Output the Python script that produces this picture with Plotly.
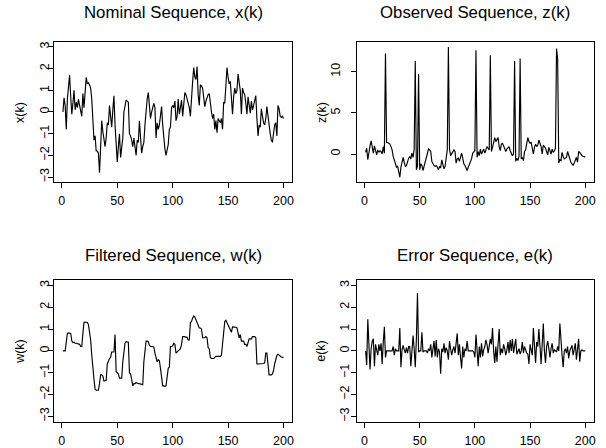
import plotly.graph_objects as go

k = list(range(1, 201))

x_nominal = [
    0.0, 0.65, 0.3, -0.8, 0.6, 1.2, 1.7, 0.7, -0.1, 0.4,
    1.0, 0.1, 0.45, 0.2, 0.6, 0.3, 0.1, -0.2, 0.85, 0.2,
    0.9, 1.6, 1.3, 1.35, 1.25, 1.1, 0.6, -0.2, -1.3, -1.1,
    -1.8, -1.8, -1.9, -2.8, -1.2, -0.4, -0.9, -1.3, -1.6, -1.2,
    -0.5, -0.6, 0.3, -0.2, -0.7, 0.1, 0.75, -0.6, -1.6, -2.3,
    -1.6, -1.0, -2.1, -1.6, -1.2, 0.0, 0.3, 0.55, 0.5, 0.45,
    -1.0, -1.1, -1.3, -1.6, -1.2, -1.5, -2.0, -1.3, -1.4, -0.4,
    -1.5, -1.9, -1.6, -1.4, -0.6, 0.3, 0.6, 0.9, 0.4, -0.3,
    0.0, 0.3, 0.4, 0.2, -1.2, -0.5, -0.8, -0.6, -0.2, 0.25,
    -0.6, -1.3, -1.7, -2.0, -1.7, -1.5, -0.8, -0.7, 0.2, 0.3,
    0.2, 0.5, -0.4, -0.2, 0.6, -0.1, 0.2, 0.55, -0.2, 0.3,
    0.9, 0.8, 0.6, 0.5, 0.2, -0.2, 0.8, 1.4, 2.05, 1.6,
    1.5, 2.1, 0.8, 0.3, 1.25, 1.2, 1.1, 0.6, 0.25, 0.5,
    0.7, 0.8, 0.85, 0.3, 0.0, -0.3, -0.1, -0.8, -0.4, -0.95,
    -0.3, -0.4, -0.5, -0.3, -0.8, 0.45, 0.4, 1.2, 2.05, 1.6,
    1.3, 1.4, 0.8, -0.1, 0.7, 1.1, 0.85, 1.0, 1.75, 1.3,
    1.0, -0.1, 1.1, 0.9, 0.8, 0.4, -0.1, 0.7, 0.2, -0.05,
    0.5, 0.1, 0.3, 0.6, 0.75, -0.3, -1.1, -0.6, -0.7, 0.15,
    -0.3, -0.5, -0.6, -0.3, 0.25, -0.2, -0.8, -1.0, -1.3, -1.4,
    -1.0, -0.6, -0.5, -1.1, 0.3, 0.15, -0.2, -0.25, -0.2, -0.3,
]

z_observed = [
    0.2, 0.7, -0.7, 0.4, 1.0, 1.6, 0.8, 0.1, 1.0, 0.3,
    -0.1, 0.5, 0.2, 0.4, 0.3, 0.0, 0.9, 0.1, 12.2, 1.4,
    1.4, 1.3, 1.2, 0.9, 0.5, -0.3, -0.8, -1.4, -1.6, -1.5,
    -2.2, -2.8, -1.6, -0.8, -0.4, -1.0, -1.5, -1.4, -0.8, -0.5,
    -0.3, -0.6, 0.1, -0.4, 0.6, 11.3, -1.9, -1.5, 9.7, -1.9,
    -1.2, -1.4, -2.0, -1.5, -1.0, -0.2, 0.3, 0.6, 0.5, 0.3,
    -0.9, -1.2, -1.4, -1.5, -1.4, -1.6, -1.9, -1.5, -1.7, -0.7,
    -1.4, -1.8, -1.5, -0.4, 0.5, 13.0, 0.6, -0.2, 0.1, 0.4,
    0.5, 0.3, -1.1, -0.6, -0.5, -0.9, -0.4, 0.1, -0.5, -1.2,
    -1.4, -1.8, -2.0, -1.6, -1.3, -0.8, -0.6, 0.1, 0.3, 0.4,
    12.6, -0.4, 0.3, -0.2, 0.6, 0.0, 0.3, 0.6, 0.1, 0.4,
    0.9, 0.7, 0.5, 12.0, 0.3, 0.8, 1.4, 2.0, 1.5, 1.7,
    2.0, 0.9, 0.4, 1.2, 1.3, 1.0, 0.6, 0.3, 0.6, 0.7,
    0.9, 0.4, 0.1, -0.2, 0.0, 11.3, -0.9, -0.5, -0.8, -0.3,
    11.6, -0.6, -0.4, -0.8, 0.3, 0.5, 1.3, 2.0, 1.5, 1.3,
    1.4, 0.7, 0.0, 0.8, 1.2, 0.9, 1.1, 1.7, 1.2, 0.9,
    0.0, 1.1, 0.9, 0.7, 0.3, -0.1, 0.8, 0.2, 0.0, 0.6,
    0.2, 0.4, 0.7, 12.8, 11.5, -1.1, -0.7, -0.8, 0.2, -0.3,
    -0.6, -0.5, -0.4, 0.3, -0.1, -0.7, -1.0, -1.2, -1.4, -1.1,
    -0.7, -0.4, -1.0, 0.3, 0.2, -0.1, -0.2, -0.3, -0.3, -0.4,
]

w_filtered = [
    0.0, 0.0, 0.0, 0.4, 0.8, 0.82, 0.82, 0.8, 0.45, 0.38,
    0.4, 0.35, 0.35, 0.33, 0.3, 0.3, 0.2, 0.2, 0.8, 1.3,
    1.32, 1.32, 1.3, 1.2, 0.9, 0.5, -0.2, -1.0, -1.3, -1.75,
    -1.8, -1.8, -1.8, -1.5, -1.1, -1.1, -1.15, -1.38, -1.38, -1.35,
    -0.6, -0.45, -0.35, -0.3, -0.05, -0.05, -0.05, 0.75, -0.95, -1.0,
    -1.05, -1.25, -1.25, -1.25, -0.5, 0.0, 0.35, 0.42, 0.42, 0.4,
    -1.0, -1.05, -1.3, -1.6, -1.5, -1.5, -1.45, -1.48, -1.5, -1.5,
    -1.52, -1.55, -1.55, -0.5, 0.0, 0.45, 0.45, 0.42, 0.25, 0.2,
    0.2, 0.2, 0.18, -0.1, -0.4, -0.5, -0.4, -0.45, -0.8, -1.1,
    -1.6, -1.6, -1.62, -1.6, -1.2, -0.8, -0.75, 0.2, 0.2, 0.22,
    0.35, 0.3, -0.1, -0.05, 0.0, 0.05, 0.1, 0.3, 0.65, 0.65,
    0.65, 0.65, 0.62, 0.5, 0.5, 1.3, 1.35, 1.5, 1.6, 1.55,
    1.4, 1.3, 1.15, 1.05, 1.05, 1.0, 0.6, 0.6, 0.6, 0.65,
    0.6, 0.15, 0.1, -0.3, -0.35, -0.35, -0.35, -0.3, -0.25, -0.25,
    -0.25, -0.25, -0.25, -0.2, 0.4, 1.0, 1.35, 1.4, 1.3, 1.2,
    1.1, 1.0, 0.85, 1.1, 1.1, 1.1, 1.08, 1.05, 0.75, 0.6,
    0.75, 0.45, 0.45, 0.45, 0.3, 0.3, 0.2, 0.35, 0.55, 0.55,
    0.55, 0.65, 0.65, 0.65, 0.6, -0.6, -0.6, -0.6, -0.6, -0.6,
    -0.58, -0.58, -0.55, -0.1, -0.1, -0.7, -1.1, -1.1, -1.1, -1.05,
    -0.9, -0.6, -0.3, -0.2, -0.15, -0.2, -0.25, -0.28, -0.3, -0.3,
]

e_error = [
    0.0, -0.65, 1.45, -0.2, -0.85, 0.1, 0.45, 0.55, -0.7, 0.3,
    0.1, -0.2, 0.3, 0.0, 0.35, -0.6, 0.4, 1.1, -0.3, 0.0,
    0.0, 0.0, 0.0, 0.0, 0.0, 0.2, -0.2, 0.1, 0.0, 0.0,
    0.0, 1.05, -0.75, 0.05, 0.25, 0.05, -0.1, 0.15, -0.1, 0.2,
    0.2, -0.7, 0.0, 0.7, 0.1, -0.75, 0.55, 2.65, -0.05, 0.0,
    0.0, 0.85, -0.05, 0.0, 0.0, 0.0, -0.1, 0.1, 0.0, 0.3,
    -0.3, 0.1, 0.45, -0.25, 0.5, -0.3, 0.1, -0.05, -1.05, 0.1,
    -0.05, 0.35, -0.1, 0.15, 0.0, -0.4, 0.45, 0.1, -0.2, 0.05,
    0.2, -0.1, 0.3, 0.8, -0.2, 0.3, -0.3, -0.8, 0.2, -0.3,
    0.1, 0.0, 0.45, 0.0, 0.0, 0.0, 0.0, 0.0, -0.05, -0.3,
    0.75, -0.1, -0.7, 0.2, -0.3, 0.35, -0.25, 0.05, 0.2, 0.5,
    0.3, -0.1, 0.2, 0.55, 0.3, 1.05, 0.0, -0.55, 0.2, -0.5,
    0.3, 1.0, -0.2, 0.1, -0.1, 0.3, 0.1, -0.2, 0.05, 0.4,
    -0.1, 0.5, 0.0, 0.55, -0.1, 0.3, 0.55, -0.15, 0.0, 0.1,
    -0.15, 0.0, 0.4, -0.1, 0.2, 0.0, -0.1, -0.15, -0.6, 0.3,
    0.0, -0.2, 1.05, 0.1, -0.55, 0.4, 0.2, 1.0, -0.1, -0.6,
    0.3, 1.25, 0.0, -0.55, 0.2, 0.45, 0.1, -0.3, 0.1, 0.35,
    -0.1, 0.05, 0.0, -0.05, 0.2, 0.0, 1.25, 0.3, -0.2, -0.75,
    0.0, 0.1, -0.1, 0.2, -0.35, 0.0, 0.1, 0.25, -0.2, 0.05,
    0.35, -0.4, 0.1, 0.55, -0.5, 0.0, 0.05, 0.0, 0.0, 0.0,
]

titles = ["Nominal Sequence, x(k)", "Observed Sequence, z(k)",
          "Filtered Sequence, w(k)", "Error Sequence, e(k)"]
ylabels = ["x(k)", "z(k)", "w(k)", "e(k)"]
x_ticks = [0, 50, 100, 150, 200]
y_ticks_std = [-3, -2, -1, 0, 1, 2, 3]
y_ticks_z = [0, 5, 10]

W, H = 606, 448
FONT = "Liberation Sans, Arial, Helvetica, sans-serif"


def px(p):
    return p / W


def py(p):
    return 1 - p / H


# panel boxes in window pixels: (left, right, top, bottom)
boxes = [(54.3, 293.3, 42, 183.5), (358.0, 596.0, 42, 183.5),
         (54.3, 293.3, 282, 424.5), (358.0, 596.0, 282, 424.5)]
series = [x_nominal, z_observed, w_filtered, e_error]
yranges = [[-3.24, 3.24], [-3.43, 13.63], [-3.24, 3.24], [-3.24, 3.24]]
yticks = [y_ticks_std, y_ticks_z, y_ticks_std, y_ticks_std]
ylab_x = [20, 323, 20, 322]
title_y = [13, 13, 257, 257]
ystand = [-6, 6, -6, -3]

fig = go.Figure()
for i in range(4):
    n = "" if i == 0 else str(i + 1)
    l, r, t, b = boxes[i]
    fig.add_trace(go.Scatter(x=k, y=series[i], mode="lines",
                             line=dict(color="black", width=1.15),
                             xaxis="x" + n, yaxis="y" + n,
                             showlegend=False, hoverinfo="skip"))
    axcommon = dict(showgrid=False, zeroline=False, showline=True, mirror=True,
                    linecolor="black", linewidth=1, ticks="outside", ticklen=5,
                    tickwidth=1, tickcolor="black",
                    tickfont=dict(family=FONT, size=12.5, color="black"))
    fig.update_layout(**{
        "xaxis" + n: dict(domain=[px(l), px(r)], range=[-6.96, 207.96],
                          anchor="y" + n, tickvals=x_ticks,
                          ticklabelstandoff=2, **axcommon),
        "yaxis" + n: dict(domain=[py(b), py(t)], range=yranges[i],
                          anchor="x" + n, tickvals=yticks[i], tickangle=-90,
                          ticklabelstandoff=ystand[i], **axcommon),
    })
    fig.add_annotation(x=px((l + r) / 2), y=py(title_y[i]), xref="paper",
                       yref="paper", text=titles[i], showarrow=False,
                       font=dict(family=FONT, size=16.8, color="black"),
                       xanchor="center", yanchor="middle")
    fig.add_annotation(x=px(ylab_x[i]), y=py((t + b) / 2), xref="paper",
                       yref="paper", text=ylabels[i], showarrow=False,
                       textangle=-90,
                       font=dict(family=FONT, size=12.5, color="black"),
                       xanchor="center", yanchor="middle")

fig.update_layout(width=W, height=H, autosize=False,
                  margin=dict(l=0, r=0, t=0, b=0),
                  paper_bgcolor="white", plot_bgcolor="white")
# remove the default 8px page margin so the figure sits at the window origin
fig.write_html("out.html", config={"displayModeBar": False},
               post_script="document.body.style.margin='0px';")
